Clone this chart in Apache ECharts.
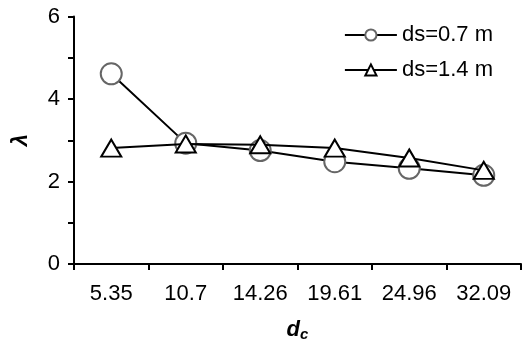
<!DOCTYPE html>
<html><head><meta charset="utf-8">
<script src="https://cdn.jsdelivr.net/npm/echarts@6/dist/echarts.min.js"></script>
<style>html,body{margin:0;padding:0;background:#fff}#c{width:522px;height:344px}</style>
</head><body><div id="c"></div>
<script>
var categories = ['5.35', '10.7', '14.26', '19.61', '24.96', '32.09'];
var ds07 = [4.61, 2.93, 2.75, 2.48, 2.32, 2.15];
var ds14 = [2.81, 2.91, 2.89, 2.81, 2.57, 2.27];
var seriesNames = ['ds=0.7 m', 'ds=1.4 m'];
var yMin = 0, yMax = 6;

var chart = echarts.init(document.getElementById('c'));
var font = '"Liberation Sans"';
chart.setOption({
  animation: false,
  textStyle: {fontFamily: font},
  grid: {left: 74, right: 1, top: 16.5, bottom: 80, containLabel: false, outerBoundsMode: 'none'},
  legend: {
    right: 24, top: 19, orient: 'vertical', itemGap: 13,
    itemWidth: 52, itemHeight: 14,
    textStyle: {fontFamily: font, fontSize: 22, lineHeight: 22, color: '#000', padding: [0,0,0,0]},
    data: seriesNames
  },
  xAxis: {
    type: 'category', data: categories, boundaryGap: true,
    name: '{d|d}{c|c}', nameLocation: 'middle', nameGap: 53,
    nameTextStyle: {rich: {
      d: {fontFamily: font, fontSize: 22, fontWeight: 'bold', fontStyle: 'italic', color: '#000'},
      c: {fontFamily: font, fontSize: 15, fontWeight: 'bold', fontStyle: 'italic', color: '#000', verticalAlign: 'bottom', padding: [10,0,0,0]}
    }},
    axisLine: {lineStyle: {color: '#000', width: 2}},
    axisTick: {show: true, interval: 0, length: 6, lineStyle: {color: '#000', width: 2}},
    axisLabel: {fontFamily: font, fontSize: 22, color: '#000', margin: 19, interval: 0}
  },
  yAxis: {
    type: 'value', min: yMin, max: yMax, interval: 1,
    name: 'λ', nameLocation: 'middle', nameGap: 42, nameRotate: 90,
    nameTextStyle: {fontFamily: font, fontSize: 22, fontWeight: 'bold', fontStyle: 'italic', color: '#000'},
    splitLine: {show: false},
    axisLine: {show: true, lineStyle: {color: '#000', width: 2}},
    axisTick: {show: true, length: 6, lineStyle: {color: '#000', width: 2}},
    axisLabel: {fontFamily: font, fontSize: 22, color: '#000', margin: 14,
      formatter: function (v) { return v % 2 === 0 ? String(v) : ''; }}
  },
  series: [
    {name: seriesNames[0], type: 'line', data: ds07, symbol: 'circle', symbolSize: 21,
     lineStyle: {color: '#000', width: 2},
     itemStyle: {color: '#fff', borderColor: '#666', borderWidth: 2}, z: 2},
    {name: seriesNames[1], type: 'line', data: ds14, symbol: 'triangle', symbolSize: [20, 17],
     lineStyle: {color: '#000', width: 2},
     itemStyle: {color: '#fff', borderColor: '#000', borderWidth: 2}, z: 3}
  ]
});
</script></body></html>
